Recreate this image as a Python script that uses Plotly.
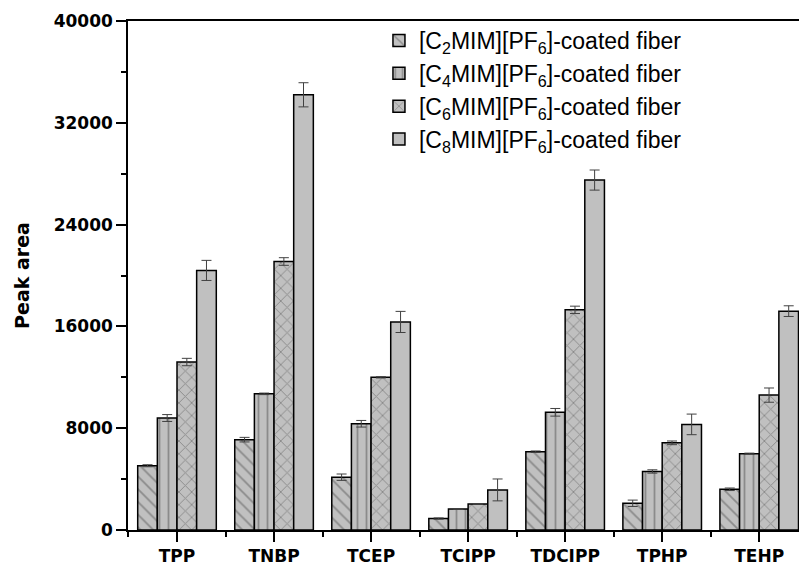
import plotly.graph_objects as go

categories = ["TPP", "TNBP", "TCEP", "TCIPP", "TDCIPP", "TPHP", "TEHP"]
series_names = [
    "[C<sub>2</sub>MIM][PF<sub>6</sub>]-coated fiber",
    "[C<sub>4</sub>MIM][PF<sub>6</sub>]-coated fiber",
    "[C<sub>6</sub>MIM][PF<sub>6</sub>]-coated fiber",
    "[C<sub>8</sub>MIM][PF<sub>6</sub>]-coated fiber",
]
c2_values = [5050, 7100, 4150, 900, 6150, 2100, 3200]
c2_errors = [80, 180, 250, 50, 60, 250, 100]
c4_values = [8800, 10700, 8350, 1650, 9250, 4600, 6000]
c4_errors = [270, 60, 260, 30, 300, 130, 40]
c6_values = [13200, 21100, 12000, 2050, 17300, 6850, 10600]
c6_errors = [290, 300, 50, 30, 290, 145, 560]
c8_values = [20400, 34200, 16350, 3150, 27500, 8300, 17200]
c8_errors = [790, 950, 830, 860, 790, 810, 420]

y_tick_values = [0, 8000, 16000, 24000, 32000, 40000]
y_tick_labels = ["0", "8000", "16000", "24000", "32000", "40000"]

values = [c2_values, c4_values, c6_values, c8_values]
errors = [c2_errors, c4_errors, c6_errors, c8_errors]
patterns = ["\\", "|", "x", ""]

x_pos = list(range(len(categories)))

fig = go.Figure()
for name, vals, errs, pat in zip(series_names, values, errors, patterns):
    marker = dict(color="#c0c0c0", line=dict(color="black", width=1.5))
    if pat:
        marker["pattern"] = dict(shape=pat, fgcolor="#555555", bgcolor="#c0c0c0",
                                 size=9, solidity=0.2)
    fig.add_trace(go.Bar(
        x=x_pos, y=vals, name=name, marker=marker,
        error_y=dict(type="data", array=errs, color="#404040", thickness=1, width=5),
    ))

fig.update_layout(
    width=799, height=565,
    margin=dict(l=128, r=0, t=21, b=35),
    barmode="group", bargap=0.19, bargroupgap=0,
    plot_bgcolor="white", paper_bgcolor="white",
    font=dict(family="DejaVu Sans", color="black"),
    legend=dict(x=0.374, y=1.004, xanchor="left", yanchor="top",
                font=dict(family="Liberation Sans", size=23, color="black"),
                bgcolor="rgba(0,0,0,0)", tracegroupgap=0),
    xaxis=dict(
        range=[-0.505, 6.41], tickmode="array", tickvals=x_pos, ticktext=categories,
        showline=True, linecolor="black", linewidth=1.5, mirror=True,
        ticks="outside", ticklen=10, tickwidth=1.5, tickcolor="black",
        tickfont=dict(family="DejaVu Sans", size=17, color="black", weight="bold"),
        minor=dict(tickvals=[i - 0.5 for i in x_pos], ticks="outside", ticklen=5,
                   tickwidth=1.5, tickcolor="black"),
        showgrid=False, zeroline=False, automargin=False,
    ),
    yaxis=dict(
        range=[0, 40000], tickmode="array", tickvals=y_tick_values, ticktext=y_tick_labels,
        showline=True, linecolor="black", linewidth=1.5,
        ticks="outside", ticklen=10, tickwidth=1.5, tickcolor="black",
        tickfont=dict(family="DejaVu Sans", size=17, color="black", weight="bold"),
        minor=dict(dtick=4000, ticks="outside", ticklen=5, tickwidth=1.5, tickcolor="black"),
        showgrid=False, zeroline=False, automargin=False,
        title=dict(text="Peak area", standoff=19,
                   font=dict(family="DejaVu Sans", size=19, color="black", weight="bold")),
    ),
)

fig.write_html("out.html", config={"displayModeBar": False},
               post_script="document.body.style.margin='0';")
